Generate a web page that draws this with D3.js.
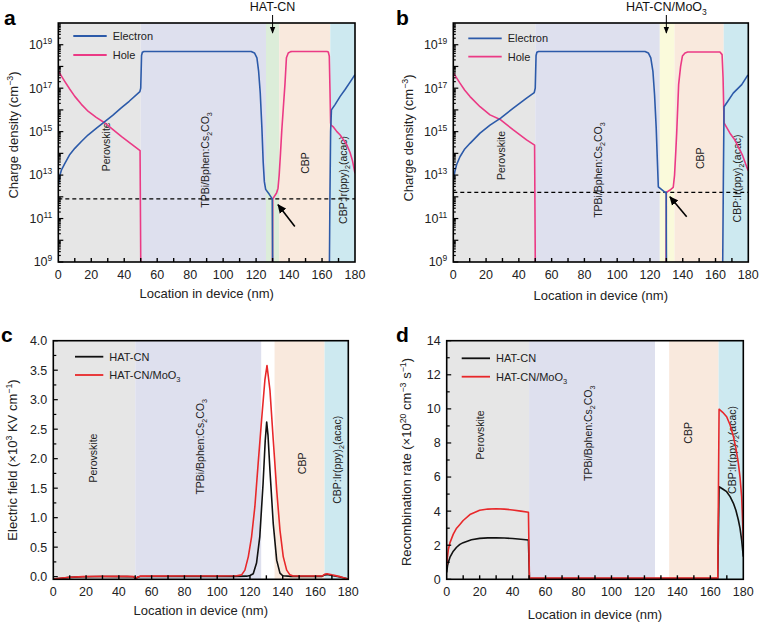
<!DOCTYPE html>
<html><head><meta charset="utf-8">
<script src="https://cdn.jsdelivr.net/npm/d3@7"></script>
<style>body{margin:0;background:#fff}svg{display:block;font-family:"Liberation Sans",Arial,Helvetica,sans-serif}</style>
</head><body><svg id="chart" width="759" height="626"></svg>
<script>
// ---------------- DATA ----------------
const xTicks = [0,20,40,60,80,100,120,140,160,180];
const xMinorTicks = [10,30,50,70,90,110,130,150,170];
const logTickExps = [9,11,13,15,17,19];
const fieldTicks = [0,0.5,1,1.5,2,2.5,3,3.5,4];
const fieldMinorTicks = [0.25,0.75,1.25,1.75,2.25,2.75,3.25,3.75];
const recombTicks = [0,2,4,6,8,10,12,14];
const recombMinorTicks = [1,3,5,7,9,11,13];

const layerNames = ["Perovskite","TPBi/Bphen:Cs_{2}CO_{3}","HAT-CN","CBP","CBP:Ir(ppy)_{2}(acac)"];
const boundsA = [0,50,126,134,165,180];
const boundsB = [0,50,126,135,165,180];
const boundsC = [0,50,127,135,165.5,180];
const boundsD = [0,50,126.5,135,165,180];

// panel a: charge density (cm^-3), HAT-CN device
const electronA_left = [[0,3.5e12],[1,1e13],[2,1.8e13],[4,3.5e13],[7,8.9e13],[10,1.7e14],[14,3.5e14],[18,7e14],[23,1.4e15],[28,2.8e15],[33,5.6e15],[38,1.2e16],[43,2.5e16],[49.5,7e16],[50,1e17],[50.5,3.2e18],[51,4.5e18],[52,4.9e18],[117,4.9e18],[119,4.2e18],[120.5,2.5e18],[121.5,6.3e17],[122.5,6.3e16],[123.5,1.6e15],[124.3,4e13],[125,5e12],[125.8,2.2e12],[128,1.3e12],[129.8,8e11],[130.1,1e8]];
const electronA_right = [[164.4,1e8],[164.8,1e12],[165.2,1e15],[165.7,1e16],[168,1.8e16],[171,4.2e16],[174,8.7e16],[177,1.9e17],[180,4.2e17]];
const holeA_left = [[0,6.3e17],[2,3.5e17],[4,2e17],[7,8.9e16],[10,4.2e16],[14,1.8e16],[18.2,8.5e15],[23,4.5e15],[28.3,2.5e15],[33,1.26e15],[38.4,5.9e14],[44,2.8e14],[49.6,1.35e14],[50.1,1e8]];
const holeA_right = [[129.9,1e8],[130.1,8e11],[132.4,1.5e12],[133.3,2.5e12],[134,1e13],[134.8,1e14],[135.6,1.2e15],[136.5,1.2e16],[137.5,1.5e17],[138.4,2.5e18],[139.5,4.2e18],[141,4.8e18],[142,4.9e18],[163,4.9e18],[163.8,4.6e18],[164.4,3e18],[164.8,1e17],[165.2,2.5e15],[165.5,2e15],[167,1.6e15],[169,1e15],[171,7e14],[173,4.2e14],[175,2.5e14],[177,1.1e14],[178.5,4.5e13],[180,1.2e13]];
const dashA = 8e11;

// panel b: charge density (cm^-3), HAT-CN/MoO3 device
const electronB_left = [[0,5.9e12],[1,1.5e13],[2,3e13],[4.07,7e13],[7,1.6e14],[10.2,2.9e14],[16.3,8.5e14],[22.4,2e15],[28.9,4.2e15],[36.6,1.2e16],[44.7,3.5e16],[49.4,6.3e16],[50,1e17],[50.5,3.2e18],[51,4.5e18],[52,4.9e18],[117,4.9e18],[119,4.2e18],[120.5,2.5e18],[121.8,6e17],[122.8,5e16],[123.8,1.5e15],[124.5,5e13],[125.1,2.9e12],[127,2.2e12],[129.2,1.6e12],[129.9,1.6e12],[130.1,1e8]];
const electronB_right = [[164.3,1e8],[164.8,1e13],[165.2,1.4e16],[167,2.2e16],[170.8,5.9e16],[176,1.45e17],[179.4,3.7e17],[180,4e17]];
const holeB_left = [[0,5.2e17],[2,3e17],[4.07,1.7e17],[7,8e16],[10.2,4.1e16],[16.3,1.4e16],[22.4,5.9e15],[28.9,3.5e15],[36.6,1.2e15],[44.7,4.2e14],[49.6,2.4e14],[50.1,1e8]];
const holeB_right = [[129.8,1e8],[130,1.6e12],[132,2e12],[134.2,2.7e12],[135,1e13],[135.7,1e14],[136.3,8.5e14],[137.5,1.5e17],[138.7,1e18],[139.8,3e18],[141.4,4.2e18],[143,4.6e18],[162.7,4.6e18],[164,3.5e18],[164.6,3e17],[165.2,2.5e15],[166.5,1.7e15],[168.8,8.5e14],[171.5,4.5e14],[173.9,2e14],[176.5,8e13],[179,2.4e13],[180,1.6e13]];
const dashB = 1.6e12;

// panel c: electric field (x10^3 kV/cm)
const fieldHATCN = [[0,-0.04],[5,-0.027],[10,-0.013],[18,-0.003],[30,0.002],[45,0.001],[49,-0.003],[50.3,-0.035],[51.5,-0.008],[53,0.003],[80,0.004],[110,0.004],[118,0.008],[120,0.02],[122,0.05],[124,0.23],[126,0.68],[128,1.58],[129.3,2.3],[130.2,2.62],[131,2.4],[132.2,1.8],[134.2,0.9],[136.3,0.28],[138.3,0.06],[140,0.015],[145,0.004],[164,0.004],[165.5,0.03],[167,0.035],[170,0.02],[175,-0.005],[180,-0.04]];
const fieldMoO3 = [[0,-0.04],[5,-0.025],[10,-0.01],[18,0.0],[30,0.006],[45,0.004],[49,0.0],[50.3,-0.035],[51.5,-0.005],[53,0.008],[80,0.01],[100,0.01],[112,0.014],[114.9,0.03],[116.9,0.11],[119,0.34],[121,0.68],[123,1.19],[125,1.92],[127.1,2.66],[129.1,3.33],[130.4,3.58],[132.2,3.16],[134.2,2.32],[136.3,1.47],[138.3,0.79],[140.3,0.34],[142.4,0.11],[144.4,0.03],[146.4,0.012],[150,0.01],[164,0.01],[165.5,0.04],[167,0.05],[170,0.03],[175,0.0],[180,-0.04]];

// panel d: recombination rate (x10^20 cm^-3 s^-1)
const recombHATCN = [[0,0.4],[0.5,0.8],[1,1.0],[2,1.3],[4,1.65],[6,1.88],[8,2.05],[10,2.15],[15,2.32],[20,2.4],[25,2.43],[30,2.44],[35,2.42],[40,2.39],[45,2.35],[49.6,2.31],[50.2,0.05],[51,0.05],[164.5,0.05],[165.3,5.43],[167.5,5.3],[169.9,5.14],[172,4.85],[174,4.46],[175.5,4.05],[177,3.48],[178,3.0],[179,2.3],[180,1.33]];
const recombMoO3 = [[0,0.84],[0.5,1.35],[1,1.75],[2,2.15],[4,2.65],[6,3.0],[8,3.22],[10,3.45],[14.1,3.8],[20,4.05],[25,4.12],[30,4.14],[35,4.12],[40,4.07],[45,4.0],[49.6,3.93],[50.2,0.07],[51,0.07],[164.5,0.07],[165.3,9.98],[167.5,9.8],[169.9,9.54],[172,9.05],[174,8.37],[175.5,7.7],[177,6.8],[178,6.0],[179,4.85],[180,2.3]];

// ---------------- STYLE ----------------
const COL = {blue:"#2c5aa9", pink:"#eb3a85", red:"#e8282a", black:"#111111",
  gray:"#e6e6e6", lav:"#dee0ee", green:"#dcedd9", peach:"#f9e9dd", cyan:"#cde9f0", yellow:"#fafadb", white:"#ffffff"};
const FONT = {tick:12.5, title:13, legend:11, layer:10.5, panel:21, note:12.5};

const svg = d3.select("#chart");
svg.append("rect").attr("width",759).attr("height",626).attr("fill","#fff");
const defs = svg.append("defs");
defs.append("marker").attr("id","ah").attr("viewBox","0 0 10 10").attr("refX",9).attr("refY",5)
  .attr("markerWidth",7).attr("markerHeight",7).attr("markerUnits","userSpaceOnUse").attr("orient","auto")
  .append("path").attr("d","M0,1 L10,5 L0,9 Z").attr("fill","#000");
defs.append("marker").attr("id","ah2").attr("viewBox","0 0 10 10").attr("refX",9).attr("refY",5)
  .attr("markerWidth",9).attr("markerHeight",9).attr("markerUnits","userSpaceOnUse").attr("orient","auto")
  .append("path").attr("d","M0,0.5 L10,5 L0,9.5 Z").attr("fill","#000");

function parts(s){
  const out=[]; const re=/([_^])\{([^}]*)\}/g; let last=0,m;
  while((m=re.exec(s))){ if(m.index>last) out.push({t:s.slice(last,m.index)});
    out.push({t:m[2],sup:m[1]==='^',sub:m[1]==='_'}); last=re.lastIndex; }
  if(last<s.length) out.push({t:s.slice(last)});
  return out;
}
function rich(sel,s,fs){
  let shift=0;
  parts(s).forEach(p=>{
    const tgt = p.sup ? -fs*0.4 : (p.sub ? fs*0.28 : 0);
    const ts = sel.append("tspan").text(p.t);
    if (tgt-shift!==0) ts.attr("dy", tgt-shift);
    if (p.sup||p.sub) ts.attr("font-size", fs*0.68);
    shift=tgt;
  });
  return sel;
}

let clipId=0;
function panel(cfg){
  const g = svg.append("g");
  const B = cfg.box;
  const x = d3.scaleLinear().domain([0,180]).range([B.l,B.r]);
  const y = cfg.y;
  const id = "clip"+(clipId++);
  defs.append("clipPath").attr("id",id).append("rect")
    .attr("x",B.l).attr("y",B.t).attr("width",B.r-B.l).attr("height",B.b-B.t);
  const layers = d3.pairs(cfg.bounds).map((p,i)=>({x0:p[0],x1:p[1],fill:cfg.fills[i]}));
  g.selectAll(".layer").data(layers).join("rect")
    .attr("x",d=>x(d.x0)).attr("width",d=>x(d.x1)-x(d.x0))
    .attr("y",B.t).attr("height",B.b-B.t).attr("fill",d=>d.fill);
  cfg.layerLabels.forEach(L=>{
    const t = g.append("text").attr("transform",`translate(${x(L.x)+4},${y(L.y)}) rotate(-90)`)
      .attr("text-anchor","middle").attr("font-size",FONT.layer).attr("fill","#222");
    rich(t, layerNames[L.i], FONT.layer);
  });
  const cg = g.append("g").attr("clip-path",`url(#${id})`);
  if (cfg.dash!=null){
    cg.append("line").attr("x1",B.l).attr("x2",B.r).attr("y1",y(cfg.dash)).attr("y2",y(cfg.dash))
      .attr("stroke","#000").attr("stroke-width",1.4).attr("stroke-dasharray","4,3");
  }
  const line = d3.line().x(d=>x(d[0])).y(d=>y(d[1]));
  cfg.series.forEach(s=>{
    cg.append("path").attr("d",line(s.data)).attr("fill","none").attr("stroke",s.color)
      .attr("stroke-width",1.6).attr("stroke-linejoin","round");
  });
  if (cfg.arrow){
    const a=cfg.arrow;
    g.append("line").attr("x1",x(a.x0)).attr("y1",y(a.y0)).attr("x2",x(a.x1)).attr("y2",y(a.y1))
      .attr("stroke","#000").attr("stroke-width",1.6).attr("marker-end","url(#ah2)");
  }
  g.append("rect").attr("x",B.l).attr("y",B.t).attr("width",B.r-B.l).attr("height",B.b-B.t)
    .attr("fill","none").attr("stroke","#000").attr("stroke-width",1.6);
  const xt = xTicks.concat(xMinorTicks).filter(v=>v>0&&v<180);
  g.selectAll(".xt").data(xt).join("line").attr("x1",d=>x(d)).attr("x2",d=>x(d))
    .attr("y1",B.b).attr("y2",B.b-4).attr("stroke","#000").attr("stroke-width",1.4);
  g.selectAll(".xl").data(xTicks).join("text").attr("x",d=>x(d)).attr("y",B.b+16.5)
    .attr("text-anchor","middle").attr("font-size",FONT.tick).attr("fill","#222").text(d=>d);
  cfg.yTicks.forEach(t=>{
    g.append("line").attr("x1",B.l).attr("x2",B.l+t.len).attr("y1",y(t.v)).attr("y2",y(t.v))
      .attr("stroke","#000").attr("stroke-width",1.2);
    if (t.label!=null){
      const tx = g.append("text").attr("x",B.l-6).attr("y",y(t.v)+4.4).attr("text-anchor","end")
        .attr("font-size",FONT.tick).attr("fill","#222");
      rich(tx, t.label, FONT.tick);
    }
  });
  g.append("text").attr("x",(B.l+B.r)/2).attr("y",cfg.xTitleY).attr("text-anchor","middle")
    .attr("font-size",FONT.title).attr("fill","#222").text("Location in device (nm)");
  const yt = g.append("text").attr("transform",`translate(${cfg.yTitleX},${cfg.yTitleC}) rotate(-90)`)
    .attr("text-anchor","middle").attr("font-size",FONT.title).attr("fill","#222");
  rich(yt, cfg.yTitle, FONT.title);
  cfg.legend.items.forEach((it,i)=>{
    const ly = cfg.legend.y + i*cfg.legend.dy;
    g.append("line").attr("x1",cfg.legend.x).attr("x2",cfg.legend.x+cfg.legend.w).attr("y1",ly).attr("y2",ly)
      .attr("stroke",it.color).attr("stroke-width",1.8);
    const lt = g.append("text").attr("x",cfg.legend.x+cfg.legend.w+6).attr("y",ly+4)
      .attr("font-size",FONT.legend).attr("fill","#222");
    rich(lt, it.name, FONT.legend);
  });
  g.append("text").attr("x",cfg.letter.x).attr("y",cfg.letter.y).attr("font-size",FONT.panel)
    .attr("font-weight","bold").text(cfg.letter.t);
  if (cfg.note){
    const nx = x(cfg.note.x);
    const nt = g.append("text").attr("x",nx).attr("y",11).attr("text-anchor","middle")
      .attr("font-size",FONT.note).attr("fill","#111");
    rich(nt, cfg.note.text, FONT.note);
    g.append("line").attr("x1",nx).attr("x2",nx).attr("y1",15).attr("y2",33)
      .attr("stroke","#000").attr("stroke-width",1).attr("marker-end","url(#ah)");
  }
  return {x,y};
}

function logTicks(){
  const t=[];
  for(let e=9;e<=19;e++){
    t.push({v:Math.pow(10,e),len:5,label:logTickExps.includes(e)?`10^{${e}}`:null});
    for(let k=2;k<=9;k++) t.push({v:k*Math.pow(10,e),len:2.5,label:null});
  }
  return t;
}
function linTicks(major, minor, fmt){
  return major.map(v=>({v,len:4.5,label:fmt(v)})).concat(minor.map(v=>({v,len:3,label:null})));
}

const boxA={l:58.3,r:355,t:23,b:262}, boxB={l:453.3,r:748.3,t:23,b:262};
const boxC={l:53.3,r:348.3,t:340.7,b:579.3}, boxD={l:446.7,r:743.3,t:340.7,b:579.3};

panel({
  box:boxA, y:d3.scaleLog().domain([1e9,1e20]).range([boxA.b,boxA.t]),
  bounds:boundsA, fills:[COL.gray,COL.lav,COL.green,COL.peach,COL.cyan],
  layerLabels:[{i:0,x:28.9,y:2e14},{i:1,x:88.9,y:5e13},{i:3,x:149.5,y:3.6e13},{i:4,x:172.7,y:6e12}],
  dash:dashA,
  series:[{data:holeA_left,color:COL.pink},{data:holeA_right,color:COL.pink},
          {data:electronA_left,color:COL.blue},{data:electronA_right,color:COL.blue}],
  arrow:{x0:143.5,y0:4.3e10,x1:133.3,y1:4.3e11},
  yTicks:logTicks(), xTitleY:298, yTitleX:18, yTitleC:135, yTitle:"Charge density (cm^{−3})",
  legend:{x:73.3,y:36,dy:19,w:33.4,items:[{name:"Electron",color:COL.blue},{name:"Hole",color:COL.pink}]},
  letter:{x:4,y:25,t:"a"}, note:{x:130,text:"HAT-CN"}
});
panel({
  box:boxB, y:d3.scaleLog().domain([1e9,1e20]).range([boxB.b,boxB.t]),
  bounds:boundsB, fills:[COL.gray,COL.lav,COL.yellow,COL.peach,COL.cyan],
  layerLabels:[{i:0,x:28.9,y:8e13},{i:1,x:88.5,y:1.7e13},{i:3,x:150.5,y:6e13},{i:4,x:173.3,y:7e12}],
  dash:dashB,
  series:[{data:holeB_left,color:COL.pink},{data:holeB_right,color:COL.pink},
          {data:electronB_left,color:COL.blue},{data:electronB_right,color:COL.blue}],
  arrow:{x0:142.4,y0:1.2e11,x1:132.2,y1:1e12},
  yTicks:logTicks(), xTitleY:299.5, yTitleX:413, yTitleC:138, yTitle:"Charge density (cm^{−3})",
  legend:{x:468.3,y:38.3,dy:18.4,w:33.4,items:[{name:"Electron",color:COL.blue},{name:"Hole",color:COL.pink}]},
  letter:{x:396,y:25,t:"b"}, note:{x:130,text:"HAT-CN/MoO_{3}"}
});
panel({
  box:boxC, y:d3.scaleLinear().domain([-0.045,4]).range([boxC.b,boxC.t]),
  bounds:boundsC, fills:[COL.gray,COL.lav,COL.white,COL.peach,COL.cyan],
  layerLabels:[{i:0,x:24.4,y:2.01},{i:1,x:89.5,y:2.2},{i:3,x:151.5,y:1.92},{i:4,x:172.9,y:1.98}],
  dash:null,
  series:[{data:fieldHATCN,color:COL.black},{data:fieldMoO3,color:COL.red}],
  yTicks:linTicks(fieldTicks, fieldMinorTicks, d3.format(".1f")),
  xTitleY:614.5, yTitleX:17, yTitleC:460, yTitle:"Electric field (×10^{3} KV cm^{−1})",
  legend:{x:75,y:356.7,dy:18.3,w:28.3,items:[{name:"HAT-CN",color:COL.black},{name:"HAT-CN/MoO_{3}",color:COL.red}]},
  letter:{x:1,y:342,t:"c"}
});
panel({
  box:boxD, y:d3.scaleLinear().domain([0,14]).range([boxD.b,boxD.t]),
  bounds:boundsD, fills:[COL.gray,COL.lav,COL.white,COL.peach,COL.cyan],
  layerLabels:[{i:0,x:20.2,y:8.47},{i:1,x:85.9,y:8.57},{i:3,x:146.6,y:8.59},{i:4,x:173,y:7.59}],
  dash:null,
  series:[{data:recombHATCN,color:COL.black},{data:recombMoO3,color:COL.red}],
  yTicks:linTicks(recombTicks, recombMinorTicks, String),
  xTitleY:618.5, yTitleX:411, yTitleC:462, yTitle:"Recombination rate (×10^{20} cm^{−3} s^{−1})",
  legend:{x:461.7,y:358.3,dy:18.4,w:28.3,items:[{name:"HAT-CN",color:COL.black},{name:"HAT-CN/MoO_{3}",color:COL.red}]},
  letter:{x:396,y:342,t:"d"}
});
</script></body></html>
